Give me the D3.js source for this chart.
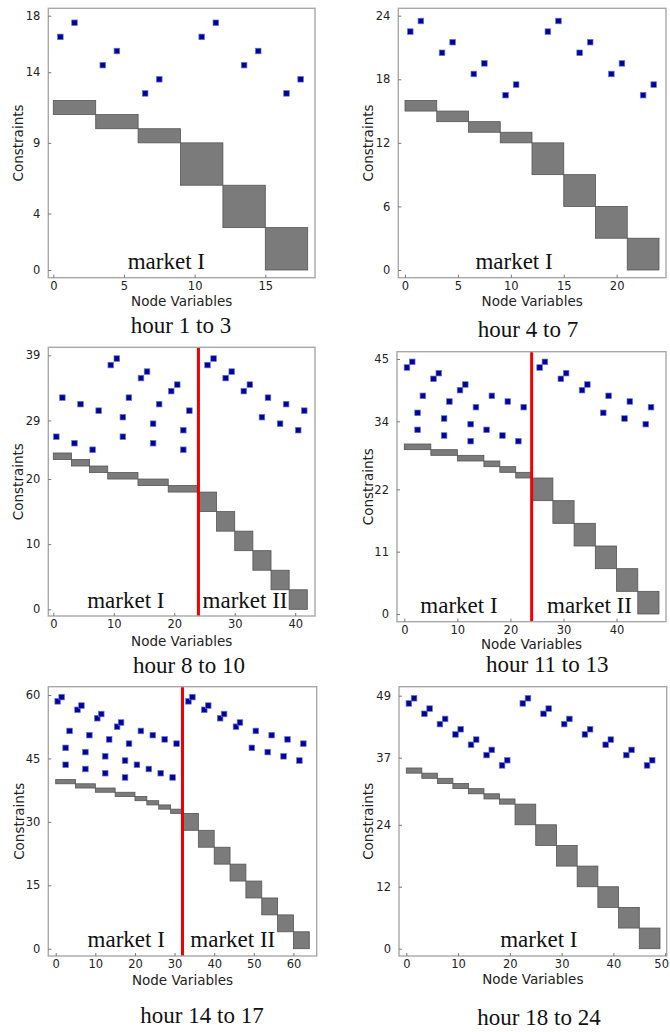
<!DOCTYPE html>
<html><head><meta charset="utf-8">
<script src="https://cdn.jsdelivr.net/npm/d3@7"></script>
<style>body{margin:0;background:#fff}</style></head>
<body>
<svg id="c" width="670" height="1032"></svg>
<script>
// ---------- DATA ----------
const titles = ["hour 1 to 3","hour 4 to 7","hour 8 to 10","hour 11 to 13","hour 14 to 17","hour 18 to 24"];
const xLabel = "Node Variables";
const yLabel = "Constraints";

// x/y extents (number of variables / constraints)
const xMax = [18, 24, 42, 48, 64, 49];
const yMax = [18, 24, 39, 45, 60, 49];

const xTicks1 = [0,5,10,15], yTicks1 = [0,4,9,14,18];
const xTicks2 = [0,5,10,15,20], yTicks2 = [0,6,12,18,24];
const xTicks3 = [0,10,20,30,40], yTicks3 = [0,10,20,29,39];
const xTicks4 = [0,10,20,30,40], yTicks4 = [0,11,22,34,45];
const xTicks5 = [0,10,20,30,40,50,60], yTicks5 = [0,15,30,45,60];
const xTicks6 = [0,10,20,30,40,50], yTicks6 = [0,12,24,37,49];

// market boundary (variable index), null = single market
const dividers = [null, null, 24, 24, 32, null];

// blocks: [x0, x1, y0, y1]
const blocks1 = [[0,3,11,12],[3,6,10,11],[6,9,9,10],[9,12,6,9],[12,15,3,6],[15,18,0,3]];
const blocks2 = [[0,3,15,16],[3,6,14,15],[6,9,13,14],[9,12,12,13],[12,15,9,12],[15,18,6,9],[18,21,3,6],[21,24,0,3]];
const blocks3 = [[0,3,23,24],[3,6,22,23],[6,9,21,22],[9,14,20,21],[14,19,19,20],[19,24,18,19],
                 [24,27,15,18],[27,30,12,15],[30,33,9,12],[33,36,6,9],[36,39,3,6],[39,42,0,3]];
const blocks4 = [[0,5,29,30],[5,10,28,29],[10,15,27,28],[15,18,26,27],[18,21,25,26],[21,24,24,25],
                 [24,28,20,24],[28,32,16,20],[32,36,12,16],[36,40,8,12],[40,44,4,8],[44,48,0,4]];
const blocks5 = [[0,5,39,40],[5,10,38,39],[10,15,37,38],[15,20,36,37],[20,23,35,36],[23,26,34,35],[26,29,33,34],[29,32,32,33],
                 [32,36,28,32],[36,40,24,28],[40,44,20,24],[44,48,16,20],[48,52,12,16],[52,56,8,12],[56,60,4,8],[60,64,0,4]];
const blocks6 = [[0,3,34,35],[3,6,33,34],[6,9,32,33],[9,12,31,32],[12,15,30,31],[15,18,29,30],[18,21,28,29],
                 [21,25,24,28],[25,29,20,24],[29,33,16,20],[33,37,12,16],[37,41,8,12],[41,45,4,8],[45,49,0,4]];

// points: [x, y]
const points1 = [[0.5,16.5],[1.5,17.5],[3.5,14.5],[4.5,15.5],[6.5,12.5],[7.5,13.5],
                 [10.5,16.5],[11.5,17.5],[13.5,14.5],[14.5,15.5],[16.5,12.5],[17.5,13.5]];
const points2 = [[0.5,22.5],[1.5,23.5],[3.5,20.5],[4.5,21.5],[6.5,18.5],[7.5,19.5],[9.5,16.5],[10.5,17.5],
                 [13.5,22.5],[14.5,23.5],[16.5,20.5],[17.5,21.5],[19.5,18.5],[20.5,19.5],[22.5,16.5],[23.5,17.5]];
const points3 = [[0.5,26.5],[1.5,32.5],[3.5,25.5],[4.5,31.5],[6.5,24.5],[7.5,30.5],[9.5,37.5],[10.5,38.5],
                 [11.5,29.5],[11.5,26.5],[12.5,32.5],[14.5,35.5],[15.5,36.5],[16.5,28.5],[16.5,25.5],[17.5,31.5],
                 [19.5,33.5],[20.5,34.5],[21.5,27.5],[21.5,24.5],[22.5,30.5],
                 [25.5,37.5],[26.5,38.5],[28.5,35.5],[29.5,36.5],[31.5,33.5],[32.5,34.5],[34.5,29.5],[35.5,32.5],
                 [37.5,28.5],[38.5,31.5],[40.5,27.5],[41.5,30.5]];
const points4 = [[0.5,43.5],[1.5,44.5],[2.5,35.5],[2.5,32.5],[3.5,38.5],[5.5,41.5],[6.5,42.5],[7.5,34.5],[7.5,31.5],
                 [8.5,37.5],[10.5,39.5],[11.5,40.5],[12.5,33.5],[12.5,30.5],[13.5,36.5],[15.5,32.5],[16.5,38.5],
                 [18.5,31.5],[19.5,37.5],[21.5,30.5],[22.5,36.5],
                 [25.5,43.5],[26.5,44.5],[29.5,41.5],[30.5,42.5],[33.5,39.5],[34.5,40.5],[37.5,35.5],[38.5,38.5],
                 [41.5,34.5],[42.5,37.5],[45.5,33.5],[46.5,36.5]];
const points5 = [[0.5,58.5],[1.5,59.5],[2.5,47.5],[2.5,43.5],[3.5,51.5],[5.5,56.5],[6.5,57.5],[7.5,46.5],[7.5,42.5],
                 [8.5,50.5],[10.5,54.5],[11.5,55.5],[12.5,45.5],[12.5,41.5],[13.5,49.5],[15.5,52.5],[16.5,53.5],
                 [17.5,44.5],[17.5,40.5],[18.5,48.5],[20.5,43.5],[21.5,51.5],[23.5,42.5],[24.5,50.5],[26.5,41.5],
                 [27.5,49.5],[29.5,40.5],[30.5,48.5],
                 [33.5,58.5],[34.5,59.5],[37.5,56.5],[38.5,57.5],[41.5,54.5],[42.5,55.5],[45.5,52.5],[46.5,53.5],
                 [49.5,47.5],[50.5,51.5],[53.5,46.5],[54.5,50.5],[57.5,45.5],[58.5,49.5],[61.5,44.5],[62.5,48.5]];
const points6 = [[0.5,47.5],[1.5,48.5],[3.5,45.5],[4.5,46.5],[6.5,43.5],[7.5,44.5],[9.5,41.5],[10.5,42.5],
                 [12.5,39.5],[13.5,40.5],[15.5,37.5],[16.5,38.5],[18.5,35.5],[19.5,36.5],
                 [22.5,47.5],[23.5,48.5],[26.5,45.5],[27.5,46.5],[30.5,43.5],[31.5,44.5],[34.5,41.5],[35.5,42.5],
                 [38.5,39.5],[39.5,40.5],[42.5,37.5],[43.5,38.5],[46.5,35.5],[47.5,36.5]];

// market labels: [text, x position in variable units]
const markets1 = [["market I", 8.0]];
const markets2 = [["market I", 10.3]];
const markets3 = [["market I", 12.0],["market II", 31.7]];
const markets4 = [["market I", 10.3],["market II", 34.9]];
const markets5 = [["market I", 17.8],["market II", 44.7]];
const markets6 = [["market I", 25.6]];

// ---------- LAYOUT ----------
const layout = [
  {frame:[48.3,8.3,315,277.7],   xr:[53.3,307.7], yr:[270,15.7],   ylx:18.3,  xlb:306,   tt:[181,332.7]},
  {frame:[398.3,8.3,666,277.7],  xr:[405,659],    yr:[270,15.7],   ylx:368.3, xlb:306,   tt:[528,336.7]},
  {frame:[48.3,347.3,315,616],   xr:[53.3,307.3], yr:[609.3,355.3],ylx:18.3,  xlb:646,   tt:[189,673.3]},
  {frame:[397,351.7,666,621.7],  xr:[404.3,659],  yr:[614,359],    ylx:368.3, xlb:649.3, tt:[547.3,672.3]},
  {frame:[48.3,686.7,316.7,956], xr:[55.7,309.3], yr:[948.7,695],  ylx:18.7,  xlb:985,   tt:[202,1023.3]},
  {frame:[399,686.7,666.7,956],  xr:[406.3,660],  yr:[948.7,695.7],ylx:368.3, xlb:984.3, tt:[539,1025]}
];

const panels = [
  {xt:xTicks1, yt:yTicks1, b:blocks1, p:points1, m:markets1},
  {xt:xTicks2, yt:yTicks2, b:blocks2, p:points2, m:markets2},
  {xt:xTicks3, yt:yTicks3, b:blocks3, p:points3, m:markets3},
  {xt:xTicks4, yt:yTicks4, b:blocks4, p:points4, m:markets4},
  {xt:xTicks5, yt:yTicks5, b:blocks5, p:points5, m:markets5},
  {xt:xTicks6, yt:yTicks6, b:blocks6, p:points6, m:markets6}
];

const W = 670;
const svg = d3.select("#c");
const sans = "DejaVu Sans, sans-serif";
const serif = "Liberation Serif, Times New Roman, serif";

panels.forEach((pd, i) => {
  const L = layout[i];
  const [fl, ft, fr, fb] = L.frame;
  const x = d3.scaleLinear().domain([0, xMax[i]]).range(L.xr);
  const y = d3.scaleLinear().domain([0, yMax[i]]).range(L.yr);
  const g = svg.append("g");

  // blocks
  g.selectAll("rect.blk").data(pd.b).join("rect")
    .attr("class","blk")
    .attr("x", d => x(d[0])).attr("width", d => x(d[1]) - x(d[0]))
    .attr("y", d => y(d[3])).attr("height", d => y(d[2]) - y(d[3]))
    .attr("fill", "#7b7b7b").attr("stroke", "#555").attr("stroke-width", 0.8);

  // points
  const s = 5.6;
  g.selectAll("rect.pt").data(pd.p).join("rect")
    .attr("class","pt")
    .attr("x", d => x(d[0]) - s/2).attr("y", d => y(d[1]) - s/2)
    .attr("width", s).attr("height", s)
    .attr("fill", "#00009c").attr("stroke", "#6a7ac8").attr("stroke-width", 0.7);

  // market labels
  g.selectAll("text.mk").data(pd.m).join("text")
    .attr("class","mk")
    .attr("x", d => x(d[1])).attr("y", y(0) - 1.5)
    .attr("text-anchor","middle")
    .attr("font-family", serif).attr("font-size", 23).attr("fill", "#111")
    .text(d => d[0]);

  // divider
  if (dividers[i] !== null) {
    g.append("line")
      .attr("x1", x(dividers[i])).attr("x2", x(dividers[i]))
      .attr("y1", ft).attr("y2", fb)
      .attr("stroke", "#f20000").attr("stroke-width", 3);
  }

  // frame
  g.append("rect").attr("x", fl).attr("y", ft).attr("width", fr - fl).attr("height", fb - ft)
    .attr("fill","none").attr("stroke","#a8a8a8").attr("stroke-width",1.4);

  // axes (ticks inward)
  const ya = g.append("g").attr("transform", `translate(${fl},0)`)
    .call(d3.axisLeft(y).tickValues(pd.yt).tickSize(-3).tickPadding(8).tickFormat(d3.format("d")));
  const xa = g.append("g").attr("transform", `translate(0,${fb})`)
    .call(d3.axisBottom(x).tickValues(pd.xt).tickSize(-3).tickPadding(4).tickFormat(d3.format("d")));
  [ya, xa].forEach(a => {
    a.select(".domain").remove();
    a.selectAll(".tick line").attr("stroke", "#777");
    a.selectAll("text").attr("font-family", sans).attr("font-size", 11.5).attr("fill", "#222");
  });
  // keep labels inside the page edge
  xa.selectAll(".tick text").each(function() {
    const bb = this.getBBox();
    const tx = +d3.select(this.parentNode).attr("transform").match(/translate\(([-\d.]+)/)[1];
    if (tx + bb.x + bb.width > W - 1) {
      d3.select(this).attr("x", (W - 1) - tx - bb.width / 2 - (bb.x + bb.width / 2));
    }
  });

  // axis labels
  g.append("text").attr("transform", `translate(${L.ylx},${(ft+fb)/2}) rotate(-90)`)
    .attr("text-anchor","middle").attr("dominant-baseline","central")
    .attr("font-family", sans).attr("font-size", 13.5).attr("fill","#222").text(yLabel);
  g.append("text").attr("x", (fl+fr)/2).attr("y", L.xlb)
    .attr("text-anchor","middle")
    .attr("font-family", sans).attr("font-size", 13.5).attr("fill","#222").text(xLabel);

  // title
  g.append("text").attr("x", L.tt[0]).attr("y", L.tt[1])
    .attr("text-anchor","middle")
    .attr("font-family", serif).attr("font-size", 23).attr("fill","#111").text(titles[i]);
});
</script>
</body></html>
